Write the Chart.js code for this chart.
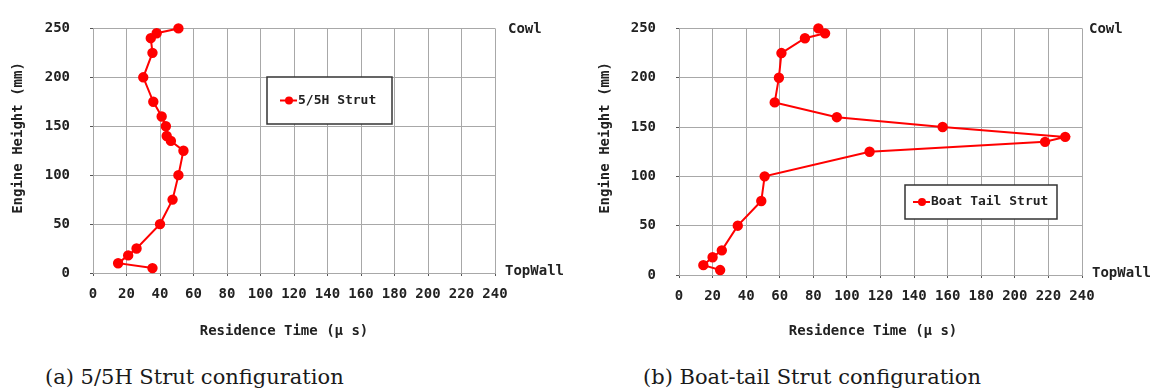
<!DOCTYPE html>
<html lang="en">
<head>
    <meta charset="UTF-8">
    <title>Residence Time</title>
</head>
<style>
    body {
        background-color: #ffffff;
        margin: 0;
        padding: 0;
        width: 1157px;
        height: 392px;
        position: relative;
        overflow: hidden;
    }
    .panel {
        position: absolute;
        top: 0;
    }
    .caption {
        position: absolute;
        top: 365px;
        font-family: 'DejaVu Serif', serif;
        font-size: 21px;
        color: #1a1a1a;
        white-space: nowrap;
    }
</style>
<script src="https://cdn.jsdelivr.net/npm/chart.js"></script>
<body>
    <canvas id="chartA" class="panel" width="578" height="345" style="left:0px"></canvas>
    <canvas id="chartB" class="panel" width="579" height="345" style="left:578px"></canvas>
    <div class="caption" style="left:45px">(a) 5/5H Strut configuration</div>
    <div class="caption" style="left:643px">(b) Boat-tail Strut configuration</div>

    <script>
        // engine height (mm) of each measuring point, top (cowl) to bottom (top wall)
        const heights = [250, 245, 240, 225, 200, 175, 160, 150, 140, 135, 125, 100, 75, 50, 25, 18, 10, 5];
        // residence time (micro s)
        const time5H = [51, 38, 34.5, 35.5, 30, 36, 41, 43.5, 44, 46.5, 54, 51, 47.5, 40, 26, 21, 15, 35.5];
        const timeBoat = [83, 87, 75, 61, 59.5, 57, 94, 157, 230, 218, 113.5, 51, 49, 35, 25.5, 20, 14.5, 24.5];

        const xTicks = [0, 20, 40, 60, 80, 100, 120, 140, 160, 180, 200, 220, 240];
        const yTicks = [0, 50, 100, 150, 200, 250];

        const red = '#ff0000';
        const gridGray = '#a8a8a8';
        const textColor = '#222222';
        const mono = '"DejaVu Sans Mono", monospace';

        const extraText = {
            id: 'extraText',
            afterDraw(chart, args, o) {
                const ctx = chart.ctx;
                const a = chart.chartArea;
                ctx.save();
                ctx.fillStyle = textColor;
                ctx.textBaseline = 'middle';
                ctx.font = 'bold 14px ' + mono;

                // side labels
                ctx.textAlign = 'left';
                ctx.fillText('Cowl', a.right + o.cowlGap, a.top + 1);
                ctx.fillText('TopWall', a.right + o.wallGap, a.bottom - 2);

                // axis titles
                ctx.textAlign = 'center';
                ctx.fillText('Residence Time (\u03bc s)', o.xTitle[0], o.xTitle[1]);
                ctx.save();
                ctx.translate(o.yTitle[0], o.yTitle[1]);
                ctx.rotate(-Math.PI / 2);
                ctx.fillText('Engine Height (mm)', 0, 0);
                ctx.restore();

                // legend box
                const b = o.legend;
                ctx.fillStyle = '#ffffff';
                ctx.fillRect(b.x, b.y, b.w, b.h);
                ctx.strokeStyle = '#333333';
                ctx.lineWidth = 1.5;
                ctx.strokeRect(b.x, b.y, b.w, b.h);
                const cy = b.y + b.h / 2;
                ctx.strokeStyle = red;
                ctx.lineWidth = 2;
                ctx.beginPath();
                ctx.moveTo(b.x + b.mx, cy);
                ctx.lineTo(b.x + b.mx + 17, cy);
                ctx.stroke();
                ctx.fillStyle = red;
                ctx.beginPath();
                ctx.arc(b.x + b.mx + 9, cy, 4, 0, Math.PI * 2);
                ctx.fill();
                ctx.fillStyle = textColor;
                ctx.textAlign = 'left';
                ctx.font = 'bold 13px ' + mono;
                ctx.fillText(chart.data.datasets[0].label, b.x + b.mx + 18, cy);
                ctx.restore();
            }
        };

        function makeChart(id, label, times, lay) {
            const ctx = document.getElementById(id).getContext('2d');
            const points = times.map((t, i) => ({ x: t, y: heights[i] }));
            const tickFont = { family: mono, size: 14, weight: 'bold' };
            return new Chart(ctx, {
                type: 'scatter',
                data: {
                    datasets: [{
                        label: label,
                        data: points,
                        showLine: true,
                        borderColor: red,
                        backgroundColor: red,
                        borderWidth: 2,
                        pointRadius: 4.2,
                        pointHoverRadius: 4.2,
                        clip: false
                    }]
                },
                options: {
                    responsive: false,
                    animation: false,
                    layout: { padding: { left: 0, top: lay.top, right: lay.right, bottom: 0 } },
                    plugins: {
                        legend: { display: false },
                        tooltip: { enabled: false },
                        extraText: lay.text
                    },
                    scales: {
                        x: {
                            type: 'linear',
                            min: 0,
                            max: 240,
                            afterBuildTicks: s => { s.ticks = xTicks.map(v => ({ value: v })); },
                            afterFit: s => { s.height = lay.xHeight; },
                            grid: { color: gridGray, tickLength: 3, tickColor: '#555555' },
                            border: { color: gridGray },
                            ticks: { font: tickFont, color: textColor, padding: 10, maxRotation: 0, autoSkip: false }
                        },
                        y: {
                            type: 'linear',
                            min: 0,
                            max: 250,
                            afterBuildTicks: s => { s.ticks = yTicks.map(v => ({ value: v })); },
                            afterFit: s => { s.width = lay.yWidth; },
                            grid: { color: gridGray, tickLength: 3, tickColor: '#555555' },
                            border: { color: gridGray },
                            ticks: { font: tickFont, color: textColor, padding: 20 }
                        }
                    }
                },
                plugins: [extraText]
            });
        }

        makeChart('chartA', '5/5H Strut', time5H, {
            top: 19, right: 83, xHeight: 72, yWidth: 93,
            text: {
                cowlGap: 13, wallGap: 10,
                xTitle: [284, 331], yTitle: [18, 138],
                legend: { x: 267, y: 77, w: 125, h: 47, mx: 13 }
            }
        });

        makeChart('chartB', 'Boat Tail Strut', timeBoat, {
            top: 20, right: 75, xHeight: 70, yWidth: 101,
            text: {
                cowlGap: 7, wallGap: 10,
                xTitle: [295, 331], yTitle: [27, 138],
                legend: { x: 327, y: 185, w: 152, h: 34, mx: 8 }
            }
        });
    </script>
</body>
</html>
